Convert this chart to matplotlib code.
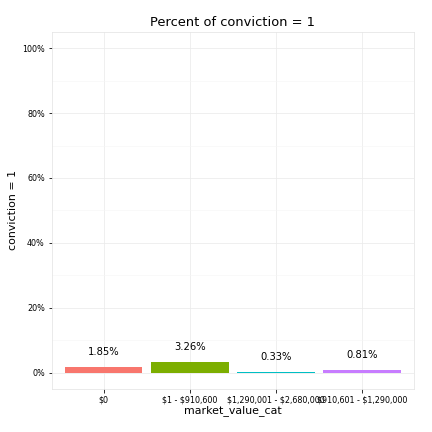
import numpy as np
import matplotlib.pyplot as plt
from matplotlib.ticker import FuncFormatter

plt.rcParams['text.parse_math'] = False

categories = ['$0', '$1 - $910,600', '$1,290,001 - $2,680,000', '$910,601 - $1,290,000']
pct = [1.85, 3.26, 0.33, 0.81]
labels = ['1.85%', '3.26%', '0.33%', '0.81%']
colors = ['#F8766D', '#7CAE00', '#00BFC4', '#C77CFF']

fig = plt.figure(figsize=(6, 6), dpi=72)
ax = fig.add_axes([0.12, 0.1, 0.838, 0.826])

x = np.arange(len(categories))
ax.bar(x, pct, width=0.9, color=colors, zorder=3)
for xi, v, lab in zip(x, pct, labels):
    ax.text(xi, v + 4.5, lab, ha='center', va='center', fontsize=10)

ax.set_xlim(-0.6, 3.6)
ax.set_ylim(-5, 105)
ax.set_xticks(x)
ax.set_xticklabels(categories, fontsize=8)
ax.set_yticks([0, 20, 40, 60, 80, 100])
ax.yaxis.set_major_formatter(FuncFormatter(lambda v, p: f'{v:.0f}%'))
ax.tick_params(axis='y', labelsize=8)
ax.set_yticks([10, 30, 50, 70, 90], minor=True)
ax.grid(True, which='major', color='#EBEBEB', lw=0.8, zorder=0)
ax.grid(True, which='minor', axis='y', color='#F5F5F5', lw=0.5, zorder=0)
ax.tick_params(which='minor', length=0)
for s in ax.spines.values():
    s.set_color('#E5E5E5')
ax.set_xlabel('market_value_cat', fontsize=11, labelpad=0)
ax.set_ylabel('conviction = 1', fontsize=11)
ax.set_title('Percent of conviction = 1', fontsize=13)

fig.savefig('out.png', dpi=72)
